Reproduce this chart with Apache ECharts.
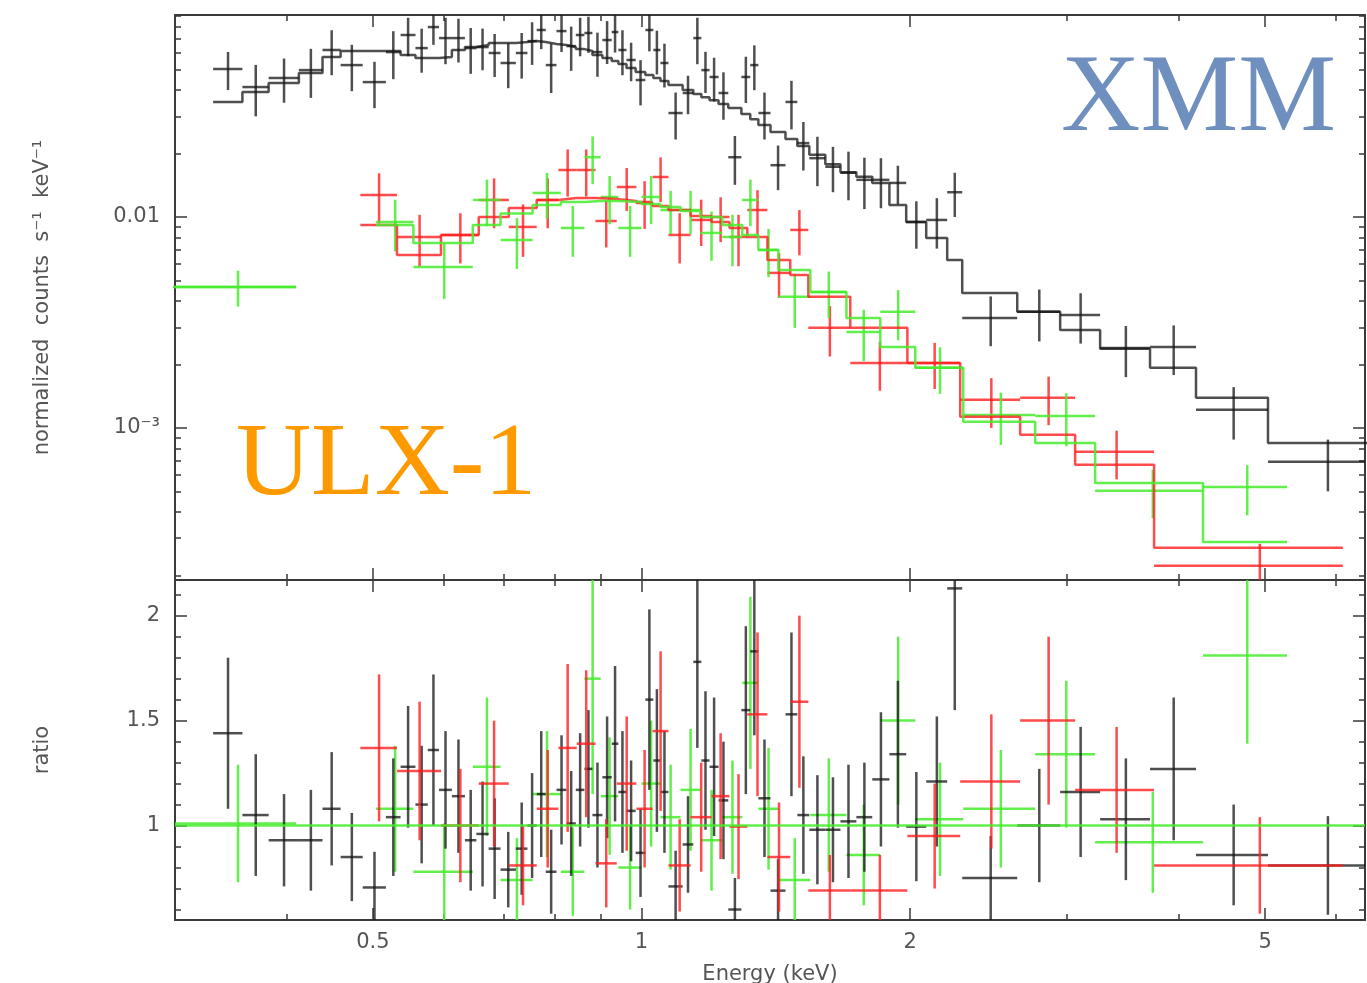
<!DOCTYPE html>
<html>
<head>
<meta charset="utf-8">
<title>ULX-1 XMM spectrum</title>
<script src="https://cdn.jsdelivr.net/npm/echarts@6/dist/echarts.min.js"></script>
<style>
html, body { margin: 0; padding: 0; background: #fff; }
#chart { width: 1367px; height: 983px; }
</style>
</head>
<body>
<div id="chart"></div>
<script>
// axis ranges
var energyMin = 0.3, energyMax = 6.47;
var countsMin = 1.9e-4, countsMax = 0.0907;
var ratioMin = 0.55, ratioMax = 2.17;

// tick values and labels
var energyMajorTicks = [0.5, 1, 2, 5];
var energyMajorLabels = ['0.5', '1', '2', '5'];
var energyMinorTicks = [0.4, 0.6, 0.7, 0.8, 0.9, 3, 4, 6];
var countsMajorTicks = [0.001, 0.01];
var countsMajorLabels = ['10⁻³', '0.01'];
var countsMinorTicks = [2e-4, 3e-4, 4e-4, 5e-4, 6e-4, 7e-4, 8e-4, 9e-4,
    0.002, 0.003, 0.004, 0.005, 0.006, 0.007, 0.008, 0.009,
    0.02, 0.03, 0.04, 0.05, 0.06, 0.07, 0.08, 0.09];
var ratioMajorTicks = [1, 1.5, 2];
var ratioMajorLabels = ['1', '1.5', '2'];
var ratioMinorTicks = [0.6, 0.7, 0.8, 0.9, 1.1, 1.2, 1.3, 1.4, 1.6, 1.7, 1.8, 1.9, 2.1];

// black (pn): bin edges in keV, counts, 1-sigma errors, model, ratio
var blackEdges = [0.331, 0.357, 0.382, 0.413, 0.439, 0.460, 0.487, 0.517, 0.537, 0.558,
    0.576, 0.593, 0.613, 0.634, 0.653, 0.674, 0.695, 0.723, 0.745, 0.763,
    0.781, 0.803, 0.824, 0.844, 0.863, 0.881, 0.904, 0.926, 0.942, 0.962,
    0.985, 1.010, 1.031, 1.050, 1.072, 1.112, 1.143, 1.167, 1.192, 1.220,
    1.251, 1.294, 1.324, 1.352, 1.395, 1.450, 1.495, 1.542, 1.607, 1.671,
    1.741, 1.814, 1.896, 1.980, 2.085, 2.201, 2.288, 2.637, 2.946, 3.266,
    3.715, 4.183, 5.037, 6.722];
var blackCounts = [0.0503, 0.0413, 0.0456, 0.0497, 0.0619, 0.0525, 0.0436, 0.0605, 0.0729, 0.0632,
    0.0795, 0.0705, 0.0705, 0.0632, 0.0639, 0.0599, 0.0537, 0.0599, 0.0682, 0.0770,
    0.0525, 0.0761, 0.0646, 0.0729, 0.0745, 0.0605, 0.0690, 0.0753, 0.0619, 0.0555,
    0.0446, 0.0770, 0.0619, 0.0537, 0.0311, 0.0387, 0.0705, 0.0497, 0.0461, 0.0387,
    0.0192, 0.0461, 0.0525, 0.0311, 0.0176, 0.0351, 0.0224, 0.0190, 0.0173, 0.0162,
    0.0150, 0.0150, 0.0145, 0.00947, 0.00968, 0.0131, 0.00332, 0.00355, 0.00343, 0.00239,
    0.00242, 0.00122, 0.00069];
var blackErr = [0.0103, 0.0113, 0.0108, 0.0130, 0.0149, 0.0130, 0.0108, 0.0155, 0.0151, 0.0149,
    0.0140, 0.0175, 0.0165, 0.0155, 0.0143, 0.0138, 0.0129, 0.0146, 0.0156, 0.0145,
    0.0138, 0.0155, 0.0153, 0.0151, 0.0145, 0.0143, 0.0159, 0.0151, 0.0149, 0.0115,
    0.0108, 0.0160, 0.0145, 0.0126, 0.0078, 0.0080, 0.0175, 0.0110, 0.0108, 0.0098,
    0.0050, 0.0114, 0.0126, 0.0078, 0.0042, 0.0091, 0.0058, 0.0050, 0.0042, 0.0042,
    0.0041, 0.0040, 0.0030, 0.0024, 0.0026, 0.0031, 0.00088, 0.00098, 0.00092, 0.00065,
    0.00064, 0.00034, 0.00019];
var blackModel = [0.0351, 0.0391, 0.0432, 0.0481, 0.0573, 0.0612, 0.0612, 0.0612, 0.0586, 0.0567,
    0.0567, 0.0573, 0.0619, 0.0639, 0.0653, 0.0668, 0.0668, 0.0675, 0.0682, 0.0675,
    0.0661, 0.0653, 0.0639, 0.0625, 0.0612, 0.0586, 0.0567, 0.0549, 0.0531, 0.0508,
    0.0487, 0.0471, 0.0456, 0.0441, 0.0422, 0.0400, 0.0383, 0.0370, 0.0358, 0.0343,
    0.0329, 0.0308, 0.0291, 0.0273, 0.0253, 0.0234, 0.0217, 0.0197, 0.0178, 0.0163,
    0.0155, 0.0145, 0.0114, 0.00947, 0.00795, 0.00625, 0.00436, 0.00355, 0.00291, 0.00237,
    0.00193, 0.00139, 0.000849];
var blackRatio = [1.44, 1.05, 0.93, 0.93, 1.08, 0.85, 0.705, 1.04, 1.28, 1.10,
    1.36, 1.17, 1.14, 0.93, 0.96, 0.89, 0.79, 0.89, 1.00, 1.15,
    0.78, 1.17, 1.01, 1.17, 1.27, 1.05, 1.23, 1.39, 1.16, 1.07,
    0.87, 1.60, 1.31, 1.16, 0.71, 0.91, 1.78, 1.31, 1.28, 1.12,
    0.60, 1.55, 1.83, 1.13, 0.69, 1.53, 1.05, 0.98, 0.98, 1.02,
    1.04, 1.22, 1.34, 0.995, 1.21, 2.13, 0.75, 1.00, 1.16, 1.03,
    1.27, 0.86, 0.81];
var blackRatioErr = [0.36, 0.29, 0.22, 0.24, 0.27, 0.21, 0.17, 0.28, 0.29, 0.28,
    0.36, 0.28, 0.27, 0.24, 0.25, 0.24, 0.18, 0.22, 0.25, 0.30,
    0.20, 0.26, 0.25, 0.27, 0.28, 0.25, 0.29, 0.37, 0.29, 0.24,
    0.21, 0.43, 0.34, 0.29, 0.17, 0.23, 0.41, 0.33, 0.33, 0.28,
    0.15, 0.40, 0.40, 0.28, 0.15, 0.39, 0.28, 0.26, 0.25, 0.27,
    0.26, 0.32, 0.35, 0.26, 0.31, 0.58, 0.20, 0.27, 0.31, 0.29,
    0.34, 0.24, 0.235];

// red (MOS1)
var redEdges = [0.484, 0.532, 0.596, 0.657, 0.710, 0.763, 0.807, 0.846, 0.888, 0.938,
    0.987, 1.029, 1.072, 1.135, 1.198, 1.255, 1.314, 1.384, 1.468, 1.538,
    1.714, 1.986, 2.276, 2.657, 3.062, 3.754, 6.110];
var redCounts = [0.01271, 0.00804, 0.00822, 0.01204, 0.00897, 0.01204, 0.0167, 0.0167, 0.00957, 0.01387,
    0.01178, 0.01547, 0.00822, 0.00968, 0.0100, 0.00804, 0.01079, 0.00543, 0.00868, 0.00298,
    0.00203, 0.00203, 0.00136, 0.00139, 0.00077, 0.000222];
var redErr = [0.0034, 0.0022, 0.0022, 0.0032, 0.0025, 0.0032, 0.0042, 0.0042, 0.0024, 0.0032,
    0.0030, 0.0037, 0.0022, 0.0024, 0.0024, 0.0022, 0.0026, 0.0013, 0.0021, 0.0008,
    0.00053, 0.0005, 0.00036, 0.00036, 0.0002, 0.00006];
var redModel = [0.00917, 0.0066, 0.00822, 0.0100, 0.01103, 0.01204, 0.0123, 0.0123, 0.01217, 0.01191,
    0.01165, 0.01127, 0.01079, 0.01011, 0.00947, 0.00887, 0.00804, 0.00625, 0.00531, 0.00418,
    0.00298, 0.00203, 0.00113, 0.000927, 0.000668, 0.00027];
var redRatio = [1.37, 1.26, 1.00, 1.20, 0.81, 1.08, 1.37, 1.39, 0.82, 1.20,
    1.08, 1.45, 0.81, 1.04, 1.14, 0.995, 1.53, 0.85, 1.59, 0.69,
    0.69, 0.95, 1.21, 1.50, 1.17, 0.81];
var redRatioErr = [0.35, 0.33, 0.27, 0.30, 0.19, 0.28, 0.40, 0.35, 0.21, 0.32,
    0.28, 0.38, 0.22, 0.26, 0.30, 0.25, 0.39, 0.26, 0.41, 0.17,
    0.17, 0.25, 0.32, 0.40, 0.30, 0.23];

// green (MOS2), second bin is an ignored gap
var greenEdges = [0.296, 0.410, 0.504, 0.555, 0.647, 0.695, 0.755, 0.812, 0.863, 0.900,
    0.942, 1.000, 1.050, 1.106, 1.164, 1.232, 1.297, 1.352, 1.424, 1.546,
    1.697, 1.852, 2.027, 2.294, 2.762, 3.224, 4.259, 5.290];
var greenCounts = [0.00466, null, 0.00947, 0.00579, 0.01204, 0.00778, 0.0130, 0.00887, 0.0192, 0.01244,
    0.00887, 0.01244, 0.01079, 0.01079, 0.0084, 0.00804, 0.01204, 0.00698, 0.00418, 0.00441,
    0.00285, 0.00355, 0.00193, 0.00115, 0.00114, 0.000503, 0.000525];
var greenErr = [0.0009, null, 0.0026, 0.0017, 0.0030, 0.0021, 0.0032, 0.0024, 0.0049, 0.0032,
    0.0024, 0.0032, 0.0025, 0.0025, 0.0022, 0.0022, 0.0030, 0.0018, 0.0012, 0.0011,
    0.00078, 0.00095, 0.00048, 0.00032, 0.00032, 0.00013, 0.00014];
var greenModel = [0.00466, null, 0.00917, 0.00753, 0.00917, 0.0104, 0.0114, 0.01178, 0.0119, 0.0119,
    0.01178, 0.01152, 0.01115, 0.01068, 0.0100, 0.00917, 0.00822, 0.00698, 0.00561, 0.00441,
    0.00332, 0.00242, 0.00193, 0.00107, 0.000849, 0.000548, 0.000288];
var greenRatio = [1.01, null, 1.08, 0.78, 1.28, 0.74, 1.15, 0.78, 1.70, 1.14,
    0.80, 1.20, 1.04, 1.17, 0.93, 1.04, 1.68, 1.08, 0.74, 1.05,
    0.86, 1.50, 1.03, 1.08, 1.34, 0.92, 1.81];
var greenRatioErr = [0.28, null, 0.30, 0.23, 0.33, 0.20, 0.30, 0.21, 0.55, 0.28,
    0.20, 0.30, 0.25, 0.29, 0.24, 0.27, 0.41, 0.29, 0.20, 0.27,
    0.24, 0.40, 0.27, 0.28, 0.35, 0.24, 0.42];

var blackColor = 'rgba(20,20,20,0.75)';
var redColor = 'rgba(255,30,30,0.8)';
var greenColor = 'rgba(70,235,45,0.85)';
var frameColor = '#3a3a3a';
var labelFont = 'DejaVu Sans';
var markWidth = 2.5;

function lg(v) { return Math.log10(v); }

// crosses: [xmid, y, xlo, xhi, ylo, yhi]; x always log, y log for the counts panel
function crossData(edges, values, errors, logY) {
    var out = [];
    for (var i = 0; i < values.length; i++) {
        if (values[i] == null) continue;
        var lo = edges[i], hi = edges[i + 1];
        var v = values[i], e = errors[i];
        if (logY) {
            out.push([lg((lo + hi) / 2), lg(v), lg(lo), lg(hi), v - e > 0 ? lg(v - e) : -10, lg(v + e)]);
        } else {
            out.push([lg((lo + hi) / 2), v, lg(lo), lg(hi), v - e, v + e]);
        }
    }
    return out;
}

// histogram style model line
function stepData(edges, model) {
    var out = [];
    for (var i = 0; i < model.length; i++) {
        if (model[i] == null) {
            out.push([lg(edges[i]), null]);
            continue;
        }
        out.push([lg(edges[i]), lg(model[i])]);
        out.push([lg(edges[i + 1]), lg(model[i])]);
    }
    return out;
}

function renderCross(params, api) {
    var r = params.coordSys;
    var cl = function (p) {
        return [Math.min(Math.max(p[0], r.x), r.x + r.width), Math.min(Math.max(p[1], r.y), r.y + r.height)];
    };
    var a = cl(api.coord([api.value(2), api.value(1)]));
    var b = cl(api.coord([api.value(3), api.value(1)]));
    var c = cl(api.coord([api.value(0), api.value(4)]));
    var d = cl(api.coord([api.value(0), api.value(5)]));
    var style = { stroke: api.visual('color'), lineWidth: markWidth, fill: null };
    return {
        type: 'group',
        children: [
            { type: 'line', shape: { x1: a[0], y1: a[1], x2: b[0], y2: b[1] }, style: style },
            { type: 'line', shape: { x1: c[0], y1: c[1], x2: d[0], y2: d[1] }, style: style }
        ]
    };
}

function labelFor(ticks, labels, useLog) {
    return function (v) {
        for (var i = 0; i < ticks.length; i++) {
            var t = useLog ? lg(ticks[i]) : ticks[i];
            if (Math.abs(t - v) < 1e-6) return labels[i];
        }
        return '';
    };
}

function makeAxis(grid, pos, min, max, ticks, len, main, useLog, labels) {
    var vals = ticks.map(function (t) { return useLog ? lg(t) : t; });
    var ax = {
        type: 'value', gridIndex: grid, position: pos, min: min, max: max,
        axisLine: { show: main, onZero: false, lineStyle: { color: frameColor, width: 2 } },
        axisTick: { show: true, inside: true, length: len, customValues: vals,
            lineStyle: { color: frameColor, width: 1.5 } },
        axisLabel: { show: false },
        splitLine: { show: false }
    };
    if (labels) {
        ax.axisLabel = {
            show: true, customValues: vals, formatter: labelFor(ticks, labels, useLog),
            color: '#555', fontFamily: labelFont, fontSize: 21, margin: 15
        };
    }
    return ax;
}

var eMin = lg(energyMin), eMax = lg(energyMax);
var cMin = lg(countsMin), cMax = lg(countsMax);

var xAxes = [
    makeAxis(0, 'bottom', eMin, eMax, energyMajorTicks, 12, true, true),
    makeAxis(0, 'top', eMin, eMax, energyMajorTicks, 12, true, true),
    makeAxis(1, 'bottom', eMin, eMax, energyMinorTicks, 6, false, true),
    makeAxis(1, 'top', eMin, eMax, energyMinorTicks, 6, false, true),
    makeAxis(2, 'bottom', eMin, eMax, energyMajorTicks, 12, true, true, energyMajorLabels),
    makeAxis(2, 'top', eMin, eMax, energyMajorTicks, 12, true, true),
    makeAxis(3, 'bottom', eMin, eMax, energyMinorTicks, 6, false, true),
    makeAxis(3, 'top', eMin, eMax, energyMinorTicks, 6, false, true)
];
xAxes[4].axisLabel.margin = 12;
xAxes[4].name = 'Energy (keV)';
xAxes[4].nameLocation = 'middle';
xAxes[4].nameGap = 44;
xAxes[4].nameTextStyle = { color: '#555', fontFamily: labelFont, fontSize: 21 };

var yAxes = [
    makeAxis(0, 'left', cMin, cMax, countsMajorTicks, 12, true, true, countsMajorLabels),
    makeAxis(0, 'right', cMin, cMax, countsMajorTicks, 12, true, true),
    makeAxis(1, 'left', cMin, cMax, countsMinorTicks, 6, false, true),
    makeAxis(1, 'right', cMin, cMax, countsMinorTicks, 6, false, true),
    makeAxis(2, 'left', ratioMin, ratioMax, ratioMajorTicks, 12, true, false, ratioMajorLabels),
    makeAxis(2, 'right', ratioMin, ratioMax, ratioMajorTicks, 12, true, false),
    makeAxis(3, 'left', ratioMin, ratioMax, ratioMinorTicks, 6, false, false),
    makeAxis(3, 'right', ratioMin, ratioMax, ratioMinorTicks, 6, false, false)
];
yAxes[0].name = 'normalized  counts  s⁻¹  keV⁻¹';
yAxes[4].name = 'ratio';
[0, 4].forEach(function (i) {
    yAxes[i].nameLocation = 'middle';
    yAxes[i].nameRotate = 90;
    yAxes[i].nameGap = 122;
    yAxes[i].nameTextStyle = { color: '#555', fontFamily: labelFont, fontSize: 21 };
});

var topRect = { left: 175, top: 15, width: 1190, height: 565, outerBoundsMode: 'none', containLabel: false };
var botRect = { left: 175, top: 580, width: 1190, height: 340, outerBoundsMode: 'none', containLabel: false };

function stepSeries(edges, model, color) {
    return {
        type: 'line', xAxisIndex: 0, yAxisIndex: 0, data: stepData(edges, model),
        showSymbol: false, connectNulls: false, clip: true, silent: true,
        lineStyle: { color: color, width: markWidth }
    };
}

function crossSeries(data, color, axisIndex) {
    return {
        type: 'custom', xAxisIndex: axisIndex, yAxisIndex: axisIndex, data: data,
        renderItem: renderCross, clip: true, silent: true,
        itemStyle: { color: color },
        encode: { x: [0, 2, 3], y: [1, 4, 5] }
    };
}

var greenRatioSeries = crossSeries(crossData(greenEdges, greenRatio, greenRatioErr, false), greenColor, 4);
greenRatioSeries.markLine = {
    silent: true, symbol: 'none', label: { show: false },
    lineStyle: { color: greenColor, type: 'solid', width: markWidth },
    data: [{ yAxis: 1 }]
};

var chart = echarts.init(document.getElementById('chart'));
chart.setOption({
    animation: false,
    backgroundColor: '#fff',
    grid: [topRect, topRect, botRect, botRect],
    xAxis: xAxes,
    yAxis: yAxes,
    series: [
        stepSeries(blackEdges, blackModel, blackColor),
        stepSeries(redEdges, redModel, redColor),
        stepSeries(greenEdges, greenModel, greenColor),
        crossSeries(crossData(blackEdges, blackCounts, blackErr, true), blackColor, 0),
        crossSeries(crossData(redEdges, redCounts, redErr, true), redColor, 0),
        crossSeries(crossData(greenEdges, greenCounts, greenErr, true), greenColor, 0),
        greenRatioSeries,
        crossSeries(crossData(blackEdges, blackRatio, blackRatioErr, false), blackColor, 4),
        crossSeries(crossData(redEdges, redRatio, redRatioErr, false), redColor, 4)
    ],
    graphic: [
        { type: 'text', x: 1061, y: 101, style: { text: 'XMM', fill: '#6f8fbf',
            font: '110px "Liberation Serif"', textVerticalAlign: 'middle' } },
        { type: 'text', x: 236, y: 467, style: { text: 'ULX-1', fill: '#ff9900',
            font: '104px "Liberation Serif"', textVerticalAlign: 'middle' } }
    ]
});
</script>
</body>
</html>
